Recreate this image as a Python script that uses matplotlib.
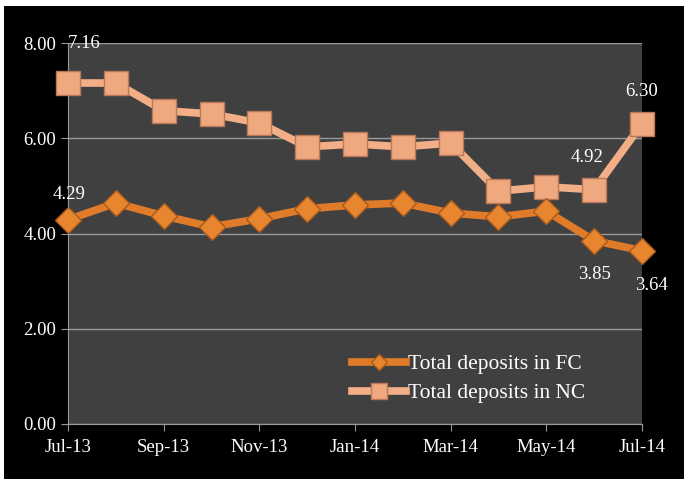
import matplotlib
matplotlib.use("Agg")
import matplotlib.pyplot as plt
from matplotlib.patches import Rectangle

months = ["Jul-13", "Aug-13", "Sep-13", "Oct-13", "Nov-13", "Dec-13", "Jan-14",
          "Feb-14", "Mar-14", "Apr-14", "May-14", "Jun-14", "Jul-14"]
fc_values = [4.29, 4.64, 4.37, 4.14, 4.31, 4.52, 4.60, 4.64, 4.43, 4.35, 4.47, 3.85, 3.64]
nc_values = [7.16, 7.16, 6.58, 6.51, 6.32, 5.82, 5.88, 5.82, 5.90, 4.89, 4.98, 4.92, 6.30]
fc_name = "Total deposits in FC"
nc_name = "Total deposits in NC"
y_ticks = [0, 2, 4, 6, 8]

plt.rcParams['font.family'] = ['Liberation Serif', 'DejaVu Serif']

fig = plt.figure(figsize=(6.84, 4.79), dpi=100, facecolor="white")
fig.patches.append(Rectangle((4/684, 0), 1 - 4/684, 1 - 6/479, transform=fig.transFigure,
                             facecolor="black", edgecolor="none", zorder=-10))
ax = fig.add_axes([68/684, 1 - 424/479, (642 - 68)/684, (424 - 43)/479])
ax.set_zorder(1)
ax.set_facecolor("#404040")

x = list(range(len(months)))
ax.plot(x, nc_values, color="#F2AE86", lw=5.5, marker="s", ms=17,
        markerfacecolor="#F0A87E", markeredgecolor="#B9795A", markeredgewidth=1,
        label=nc_name, zorder=3, clip_on=False)
ax.plot(x, fc_values, color="#E07B2A", lw=5.5, marker="D", ms=13,
        markerfacecolor="#E8852F", markeredgecolor="#A95A1C", markeredgewidth=1,
        label=fc_name, zorder=4, clip_on=False)

ax.set_xlim(0, 12)
ax.set_ylim(0, 8)
ax.set_yticks(y_ticks)
ax.set_yticklabels([f"{v:.2f}" for v in y_ticks])
ax.set_xticks(x[::2])
ax.set_xticklabels(months[::2])
ax.grid(axis="y", color="#9a9a9a", lw=1)
ax.set_axisbelow(True)
for s in ["top", "right"]:
    ax.spines[s].set_visible(False)
for s in ["left", "bottom"]:
    ax.spines[s].set_color("#9a9a9a")
ax.tick_params(colors="#9a9a9a", labelcolor="white", labelsize=13.5, length=5, direction="out")
ax.tick_params(axis="x", pad=6)

tc = dict(color="white", fontsize=13.5)
ax.annotate(f"{nc_values[0]:.2f}", (0, nc_values[0]), xytext=(0, 22), textcoords="offset points", ha="left", va="bottom", **tc)
ax.annotate(f"{fc_values[0]:.2f}", (0, fc_values[0]), xytext=(1, 12), textcoords="offset points", ha="center", va="bottom", **tc)
ax.annotate(f"{nc_values[11]:.2f}", (11, nc_values[11]), xytext=(-5, 17), textcoords="offset points", ha="center", va="bottom", **tc)
ax.annotate(f"{nc_values[12]:.2f}", (12, nc_values[12]), xytext=(0, 17), textcoords="offset points", ha="center", va="bottom", **tc)
ax.annotate(f"{fc_values[11]:.2f}", (11, fc_values[11]), xytext=(0, -18), textcoords="offset points", ha="center", va="top", **tc)
ax.annotate(f"{fc_values[12]:.2f}", (12, fc_values[12]), xytext=(7, -19), textcoords="offset points", ha="center", va="top", **tc)

h, l = ax.get_legend_handles_labels()
leg = ax.legend(h[::-1], l[::-1], loc="lower left", bbox_to_anchor=(0.495, 0.055), frameon=False,
                fontsize=15.5, labelcolor="white", handlelength=2.5, handletextpad=0.1,
                labelspacing=0.4, borderaxespad=0, borderpad=0, markerscale=0.65)

fig.savefig("out.png", dpi=100, facecolor=fig.get_facecolor())
